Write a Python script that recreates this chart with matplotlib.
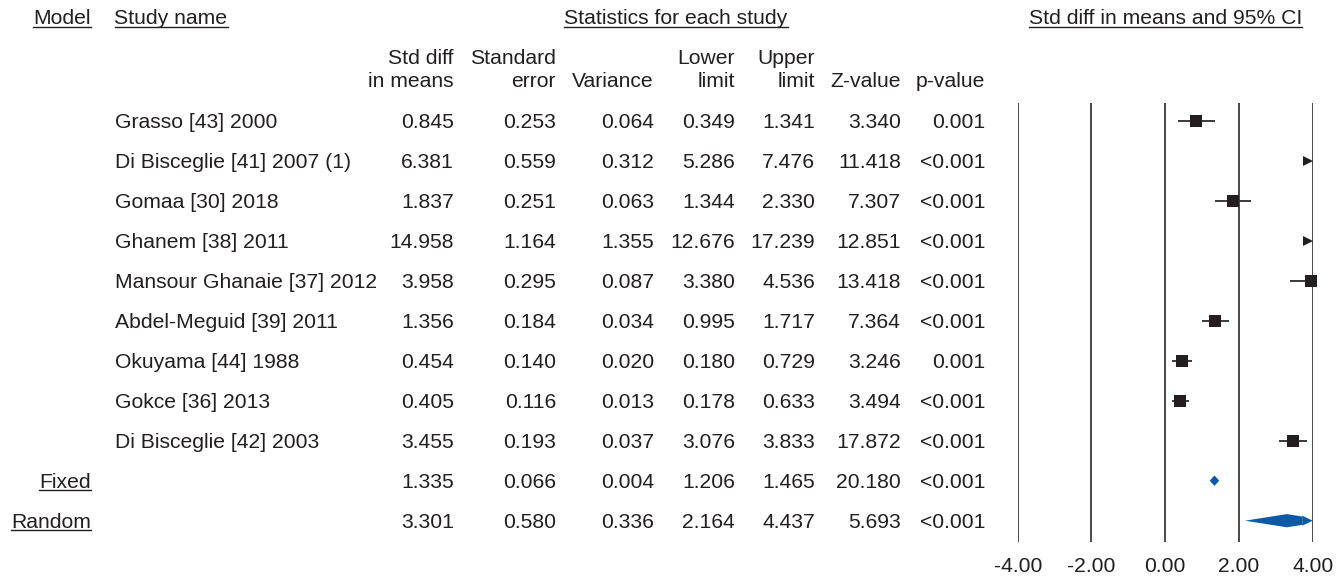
import matplotlib
matplotlib.use('Agg')
import matplotlib.pyplot as plt
import matplotlib.transforms as mtransforms
from matplotlib.lines import Line2D
from matplotlib.patches import Polygon

# ---------------- data ----------------
studies = ['Grasso [43] 2000', 'Di Bisceglie [41] 2007 (1)', 'Gomaa [30] 2018',
           'Ghanem [38] 2011', 'Mansour Ghanaie [37] 2012', 'Abdel-Meguid [39] 2011',
           'Okuyama [44] 1988', 'Gokce [36] 2013', 'Di Bisceglie [42] 2003']
std_diff = [0.845, 6.381, 1.837, 14.958, 3.958, 1.356, 0.454, 0.405, 3.455]
std_err = [0.253, 0.559, 0.251, 1.164, 0.295, 0.184, 0.140, 0.116, 0.193]
variance = [0.064, 0.312, 0.063, 1.355, 0.087, 0.034, 0.020, 0.013, 0.037]
lower = [0.349, 5.286, 1.344, 12.676, 3.380, 0.995, 0.180, 0.178, 3.076]
upper = [1.341, 7.476, 2.330, 17.239, 4.536, 1.717, 0.729, 0.633, 3.833]
z_value = [3.340, 11.418, 7.307, 12.851, 13.418, 7.364, 3.246, 3.494, 17.872]
p_value = ['0.001', '<0.001', '<0.001', '<0.001', '<0.001', '<0.001', '0.001', '<0.001', '<0.001']

models = ['Fixed', 'Random']
sum_std_diff = [1.335, 3.301]
sum_std_err = [0.066, 0.580]
sum_variance = [0.004, 0.336]
sum_lower = [1.206, 2.164]
sum_upper = [1.465, 4.437]
sum_z_value = [20.180, 5.693]
sum_p_value = ['<0.001', '<0.001']

x_ticks = [-4, -2, 0, 2, 4]
x_tick_labels = ['-4.00', '-2.00', '0.00', '2.00', '4.00']

col_headers_top = ['Std diff', 'Standard', '', 'Lower', 'Upper', '', '']
col_headers_bot = ['in means', 'error', 'Variance', 'limit', 'limit', 'Z-value', 'p-value']

# ---------------- layout ----------------
W, H = 1344, 577
FONT = 'Liberation Sans'
FS = 15.2
TXT = '#231f20'
BLUE = '#0a5aa8'

plt.rcParams['font.family'] = [FONT, 'DejaVu Sans']
fig = plt.figure(figsize=(W / 100, H / 100), dpi=100)

ax_l, ax_r, ax_t, ax_b = 1017.7, 1312.7, 102.7, 541.7
ax = fig.add_axes([ax_l / W, 1 - ax_b / H, (ax_r - ax_l) / W, (ax_b - ax_t) / H])
n_rows = len(studies) + len(models)
ax.set_xlim(x_ticks[0], x_ticks[-1])
ax.set_ylim(n_rows - 0.475, -0.45)
ax.axis('off')

for xt in x_ticks:
    ax.axvline(xt, color=TXT, lw=1.15, zorder=1)

px_per_unit = (ax_r - ax_l) / (x_ticks[-1] - x_ticks[0])
xmin, xmax = x_ticks[0], x_ticks[-1]

# study markers
arrow_tr = mtransforms.offset_copy(ax.transData, fig=fig, x=-4.5, y=0, units='dots')
for i, (d, lo, hi) in enumerate(zip(std_diff, lower, upper)):
    if lo >= xmax:
        ax.plot([xmax], [i], marker='>', color=TXT, ms=6.8, mew=0,
                transform=arrow_tr, clip_on=False, zorder=4)
        continue
    ax.plot([max(lo, xmin), min(hi, xmax)], [i, i], color='#3a3a3a', lw=1.4,
            clip_on=False, zorder=2, solid_capstyle='butt')
    ax.plot([d], [i], marker='s', color=TXT, ms=8.2, mew=0, clip_on=False, zorder=3)

# summary diamonds
for j, (d, lo, hi) in enumerate(zip(sum_std_diff, sum_lower, sum_upper)):
    y = len(studies) + j
    h = 0.13 if j == 0 else 0.165
    if hi <= xmax:
        pts = [(lo, y), (d, y - h), (hi, y), (d, y + h)]
        ax.add_patch(Polygon(pts, closed=True, color=BLUE, lw=0, zorder=3))
    else:
        arrow_len = 10.5 / px_per_unit
        xc = xmax - arrow_len
        hc = h * (hi - xc) / (hi - d)
        pts = [(lo, y), (d, y - h), (xc, y - hc), (xc, y + hc), (d, y + h)]
        ax.add_patch(Polygon(pts, closed=True, color=BLUE, lw=0, zorder=3, clip_on=False))
        ah = 0.125
        tri = [(xc, y - ah), (xmax, y), (xc, y + ah)]
        ax.add_patch(Polygon(tri, closed=True, color=BLUE, lw=0, zorder=3, clip_on=False))

# tick labels
tick_tr = mtransforms.blended_transform_factory(ax.transData, fig.transFigure)
for xt, lab in zip(x_ticks, x_tick_labels):
    ax.text(xt, 1 - 571.5 / H, lab, transform=tick_tr, ha='center', va='baseline',
            fontsize=FS, color=TXT)

# ---------------- table text ----------------
underlined = []


def ftext(x, y_base, s, ha='left', underline=False):
    t = fig.text(x / W, 1 - y_base / H, s, ha=ha, va='baseline', fontsize=FS, color=TXT)
    if underline:
        underlined.append((t, y_base))
    return t


def row_base(i):
    yc_disp = ax.transData.transform((0, i))[1]
    return H - yc_disp + 7.0


col_right = [454, 556, 654, 735, 815, 901, 985]

# top headers
ftext(90.7, 24, 'Model', ha='right', underline=True)
ftext(114.5, 24, 'Study name', underline=True)
ftext(676, 24, 'Statistics for each study', ha='center', underline=True)
ftext((ax_l + ax_r) / 2, 24, 'Std diff in means and 95% CI', ha='center', underline=True)

for cx, top, bot in zip(col_right, col_headers_top, col_headers_bot):
    if top:
        ftext(cx, 64, top, ha='right')
    ftext(cx, 86.5, bot, ha='right')

for i, name in enumerate(studies):
    yb = row_base(i)
    ftext(115, yb, name)
    vals = ['%.3f' % std_diff[i], '%.3f' % std_err[i], '%.3f' % variance[i],
            '%.3f' % lower[i], '%.3f' % upper[i], '%.3f' % z_value[i], p_value[i]]
    for cx, v in zip(col_right, vals):
        ftext(cx, yb, v, ha='right')

for j, m in enumerate(models):
    yb = row_base(len(studies) + j)
    ftext(90.7, yb, m, ha='right', underline=True)
    vals = ['%.3f' % sum_std_diff[j], '%.3f' % sum_std_err[j], '%.3f' % sum_variance[j],
            '%.3f' % sum_lower[j], '%.3f' % sum_upper[j], '%.3f' % sum_z_value[j],
            sum_p_value[j]]
    for cx, v in zip(col_right, vals):
        ftext(cx, yb, v, ha='right')

# underlines
fig.canvas.draw()
renderer = fig.canvas.get_renderer()
for t, yb in underlined:
    bb = t.get_window_extent(renderer)
    yu = 1 - (yb + 2.5) / H
    fig.add_artist(Line2D([bb.x0 / W, bb.x1 / W], [yu, yu], transform=fig.transFigure,
                          color=TXT, lw=1.0))

fig.savefig('out.png', dpi=100)
